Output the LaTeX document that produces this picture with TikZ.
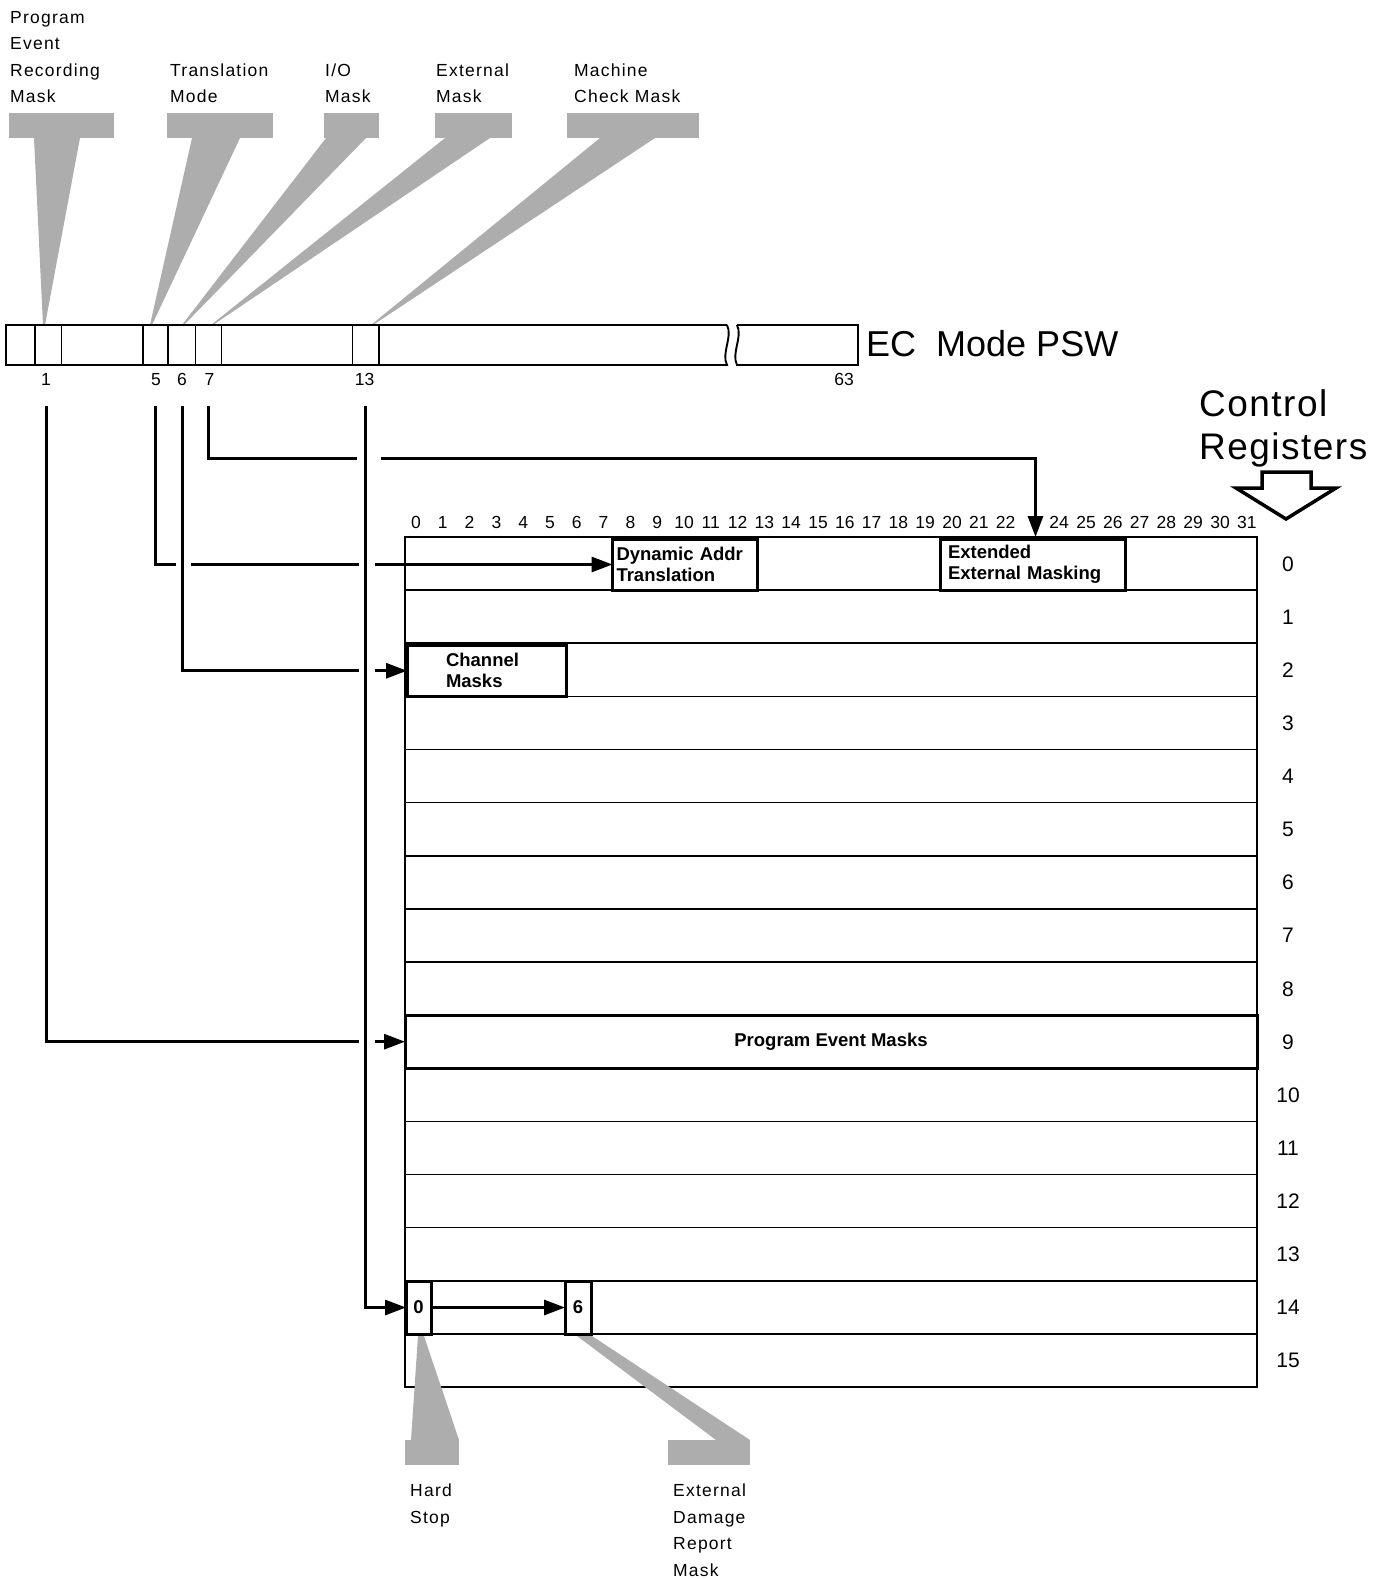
\documentclass[tikz,border=0pt]{standalone}
\usepackage{fontspec}
\setmainfont{Liberation Sans}
\newfontfamily\spaced[LetterSpace=7]{Liberation Sans}
\newfontfamily\wider[LetterSpace=4]{Liberation Sans}
\usetikzlibrary{arrows.meta,positioning}
\tikzset{lbl/.style={align=left,anchor=north west,inner sep=0pt,font=\spaced\fontsize{17.5}{26.5}\selectfont},
hat/.style={fill=black!32,draw=none},
hbox/.style={hat,minimum height=25pt,inner sep=0pt,outer sep=0pt,anchor=north west},
psw/.style={line width=1.9pt},
reg/.style={draw,line width=1.6pt,minimum width=852pt,minimum height=53.125pt,inner sep=0pt,outer sep=0pt},
fld/.style={draw,line width=3pt,inner sep=0pt,outer sep=0pt,anchor=north west,font=\fontsize{18.5}{21}\selectfont\bfseries},
wire/.style={line width=3pt},
arr/.style={wire,-{Triangle[length=21pt,width=15pt]}},
num/.style={inner sep=0pt,text height=12.5pt,text depth=0pt,font=\fontsize{17.5}{17.5}\selectfont}}
\begin{document}
\begin{tikzpicture}[x=1pt,y=-1pt]
\useasboundingbox (0,0) rectangle (1382,1579);
% labels and shaded pointers above the PSW
\node[lbl](per)at(10,11){Program\\Event\\Recording\\Mask};
\node[lbl](tm)at(170,63.5){Translation\\Mode};
\node[lbl](io)at(325,63.5){I/O\\Mask};
\node[lbl](ext)at(436,63.5){External\\Mask};
\node[lbl](mc)at(574,63.5){Machine\\Check Mask};
\node[hbox,minimum width=105pt](hper)at(9,113){};\node[hbox,minimum width=106pt](htm)at(167,113){};
\node[hbox,minimum width=55pt](hio)at(324,113){};\node[hbox,minimum width=77pt](hext)at(435,113){};
\node[hbox,minimum width=132pt](hmc)at(567,113){};
\fill[hat](34,138)--(80,138)--(45,325)--(43,325)--cycle;
\fill[hat](192,138)--(240,138)--(152,325)--(150,325)--cycle;
\fill[hat](326,138)--(366,138)--(184,325)--(182,325)--cycle;
\fill[hat](445,138)--(490,138)--(213,325)--(211,325)--cycle;
\fill[hat](600,138)--(655,138)--(373,325)--(371,325)--cycle;
% EC mode PSW
\draw[psw](727,325)--(6,325)--(6,365)--(727,365)..controls(721,353)and(733,337)..(727,325);
\draw[psw](737,325)--(858,325)--(858,365)--(737,365)..controls(731,353)and(743,337)..(737,325);
\foreach\x in{35,61.5,143,168,195.5,221.5,352.5,379}\draw[psw](\x,325)--(\x,365);
\node[anchor=west,inner sep=0pt,font=\fontsize{36}{36}\selectfont](ecpsw)at(866,344){EC\ \ Mode PSW};
\foreach\b/\x in{1/46,5/156,6/182,7/209.5,13/364.5,63/844}\node[num](b\b)at(\x,379){\b};
\coordinate(p1)at(46.5,406);\coordinate(p5)at(155,406);\coordinate(p6)at(182,406);
\coordinate(p7)at(208.5,406);\coordinate(p13)at(365.6,406);\coordinate(t7)at(1035.5,458);
% control registers
\node[align=left,anchor=north west,inner sep=0pt,font=\wider\fontsize{37}{43}\selectfont](ctl)at(1199,389){Control\\Registers};
\draw[line width=3.5pt](1262,472)--(1311,472)--(1311,488)--(1336,488)--(1286,519)--(1236,488)--(1262,488)--cycle;
\foreach\i in{0,...,31}{\ifnum\i=23\relax\else\node[num](c\i)at({416+26.8*\i},522){\i};\fi}
\foreach\r in{0,...,15}{\node[reg](r\r)at(831,{537+53.125*\r+26.5625}){};
\node[num,text height=15pt,font=\fontsize{21}{21}\selectfont](l\r)at(1288,{537+53.125*\r+26.5625}){\r};}
\node[fld,minimum width=145pt,minimum height=51pt,text width=137pt,inner xsep=4pt,align=left](dat)at(612.5,539){Dynamic Addr\\Translation};
\node[fld,minimum width=185pt,minimum height=51pt,text width=169pt,inner xsep=8pt,align=left](eem)at(940,539){Extended\\External Masking};
\node[fld,minimum width=159pt,minimum height=50.5pt,text width=81pt,inner xsep=39pt,align=left](chm)at(407,645.5){Channel\\Masks};
\node[fld,anchor=center,minimum width=852pt,minimum height=53.125pt](pem)at(r9){Program Event Masks};
\node[fld,minimum width=25pt,minimum height=53pt](z0)at(406,1281){0};
\node[fld,minimum width=26pt,minimum height=53pt](z6)at(565,1281){6};
% connections
\draw[wire](p7)|-([xshift=-9pt]p13|-t7);\draw[arr]([xshift=15pt]p13|-t7)--(t7)--(t7|-r0.north);
\draw[wire](p5)|-([xshift=-6pt]p6|-dat.west);\draw[wire]([xshift=9pt]p6|-dat.west)--([xshift=-7pt]p13|-dat.west);
\draw[arr]([xshift=9pt]p13|-dat.west)--(dat.west);
\draw[wire](p6)|-([xshift=-7pt]p13|-chm.west);\draw[arr]([xshift=9pt]p13|-chm.west)--(chm.west);
\draw[wire](p1)|-([xshift=-7pt]p13|-pem.west);\draw[arr]([xshift=9pt]p13|-pem.west)--(pem.west);
\draw[arr](p13)|-(z0.west);\draw[arr](z0.east)--(z6.west);
% shaded pointers below
\node[hbox,minimum width=54pt](hhs)at(405,1440){};\node[hbox,minimum width=82pt](hedr)at(668,1440){};
\fill[hat](418,1336)--(424,1336)--(459,1440)--(411,1440)--cycle;
\fill[hat](577,1336)--(592,1336)--(750,1440)--(716,1440)--cycle;
\node[lbl](hs)at(410,1484){Hard\\Stop};
\node[lbl](edr)at(673,1484){External\\Damage\\Report\\Mask};
\end{tikzpicture}
\end{document}
